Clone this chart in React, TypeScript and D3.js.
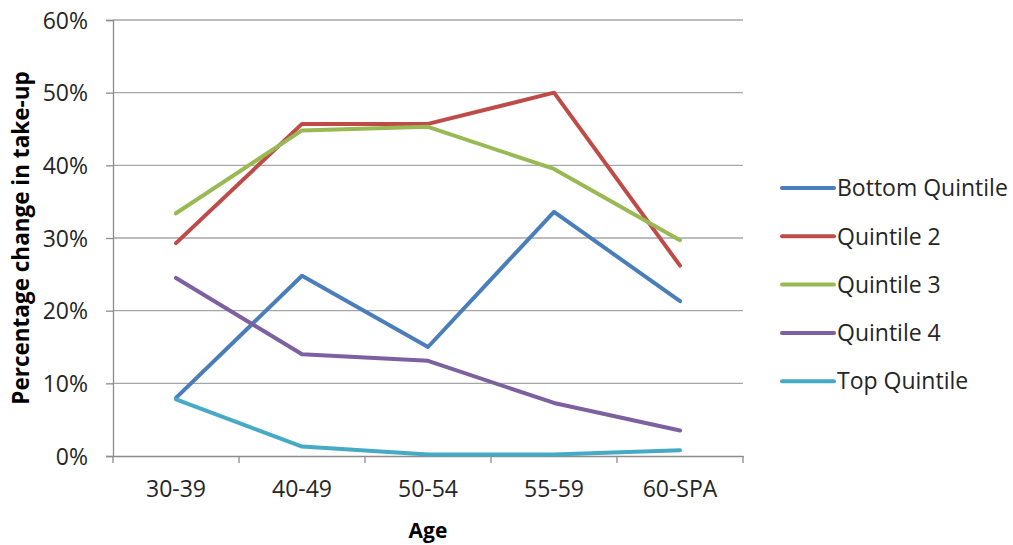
import React, { useRef, useEffect } from "react";
import * as d3 from "d3";

const ages = ["30-39", "40-49", "50-54", "55-59", "60-SPA"];
const seriesNames = ["Bottom Quintile", "Quintile 2", "Quintile 3", "Quintile 4", "Top Quintile"];
const bottomQuintile = [8.0, 24.8, 15.0, 33.6, 21.3];
const quintile2 = [29.3, 45.7, 45.7, 50.0, 26.2];
const quintile3 = [33.4, 44.8, 45.3, 39.5, 29.7];
const quintile4 = [24.5, 14.0, 13.1, 7.3, 3.5];
const topQuintile = [7.8, 1.3, 0.2, 0.2, 0.8];
const yTicks = [0, 10, 20, 30, 40, 50, 60];
const colors = ["#4A7EBB", "#BE4B48", "#98B954", "#7D60A0", "#46AAC5"];

export default function App() {
  const svgRef = useRef(null);
  const width = 1013;
  const height = 545;

  useEffect(() => {
    document.body.style.margin = "0";
    document.body.style.overflow = "hidden";

    const marginLeft = 113;
    const marginRight = 270;
    const marginTop = 20;
    const marginBottom = 89;
    const font = "'Open Sans', 'Noto Sans', sans-serif";

    const values = [bottomQuintile, quintile2, quintile3, quintile4, topQuintile];

    const x = d3.scaleBand().domain(ages).range([marginLeft, width - marginRight]);
    const y = d3.scaleLinear().domain([0, 60]).range([height - marginBottom, marginTop]);

    const svg = d3.select(svgRef.current);
    svg.selectAll("*").remove();

    // grid lines
    svg
      .append("g")
      .selectAll("line")
      .data(yTicks.filter((t) => t > 0))
      .join("line")
      .attr("x1", marginLeft)
      .attr("x2", width - marginRight)
      .attr("y1", (d) => y(d))
      .attr("y2", (d) => y(d))
      .attr("stroke", "#a6a6a6")
      .attr("stroke-width", 1.3);

    // y axis
    const yAxis = svg
      .append("g")
      .attr("transform", `translate(${marginLeft},0)`)
      .call(d3.axisLeft(y).tickValues(yTicks).tickSize(7).tickFormat((d) => `${d}%`));
    yAxis.select(".domain").attr("stroke", "#8c8c8c").attr("stroke-width", 1.3);
    yAxis.selectAll(".tick line").attr("stroke", "#8c8c8c").attr("stroke-width", 1.3);
    yAxis
      .selectAll(".tick text")
      .attr("x", -25)
      .attr("dy", "0.36em")
      .attr("fill", "#262626")
      .style("font", `23px ${font}`);

    // x axis
    const xAxis = svg
      .append("g")
      .attr("transform", `translate(0,${height - marginBottom})`)
      .call(d3.axisBottom(x).tickSize(0).tickSizeOuter(0));
    xAxis.select(".domain").attr("stroke", "#8c8c8c").attr("stroke-width", 1.3);
    xAxis
      .selectAll(".tick text")
      .attr("y", 33)
      .attr("dy", "0.36em")
      .attr("fill", "#262626")
      .style("font", `23px ${font}`);
    xAxis
      .selectAll(".boundary")
      .data([...ages.map((a) => x(a) as number), width - marginRight])
      .join("line")
      .attr("x1", (d) => d)
      .attr("x2", (d) => d)
      .attr("y1", 0)
      .attr("y2", 7)
      .attr("stroke", "#8c8c8c")
      .attr("stroke-width", 1.3);

    // lines
    const line = d3
      .line<number>()
      .x((_, i) => (x(ages[i]) as number) + x.bandwidth() / 2)
      .y((d) => y(d));

    svg
      .append("g")
      .selectAll("path")
      .data(values)
      .join("path")
      .attr("fill", "none")
      .attr("stroke", (_, i) => colors[i])
      .attr("stroke-width", 4)
      .attr("stroke-linejoin", "round")
      .attr("stroke-linecap", "round")
      .attr("d", (d) => line(d));

    // axis titles
    svg
      .append("text")
      .attr("x", (x(ages[2]) as number) + x.bandwidth() / 2)
      .attr("y", 538)
      .attr("text-anchor", "middle")
      .attr("fill", "#000")
      .style("font", `bold 21px ${font}`)
      .text("Age");

    svg
      .append("text")
      .attr("transform", `translate(29,238) rotate(-90)`)
      .attr("text-anchor", "middle")
      .attr("fill", "#000")
      .style("font", `bold 22.5px ${font}`)
      .text("Percentage change in take-up");

    // legend
    const legend = svg
      .append("g")
      .selectAll("g")
      .data(seriesNames)
      .join("g")
      .attr("transform", (_, i) => `translate(782,${188 + i * 48.3})`);
    legend
      .append("line")
      .attr("x1", 0)
      .attr("x2", 52)
      .attr("stroke", (_, i) => colors[i])
      .attr("stroke-width", 4)
      .attr("stroke-linecap", "round");
    legend
      .append("text")
      .attr("x", 55)
      .attr("dy", "0.36em")
      .attr("fill", "#262626")
      .style("font", `23px ${font}`)
      .text((d) => d);
  }, []);

  return <svg ref={svgRef} width={width} height={height} style={{ display: "block" }}></svg>;
}
